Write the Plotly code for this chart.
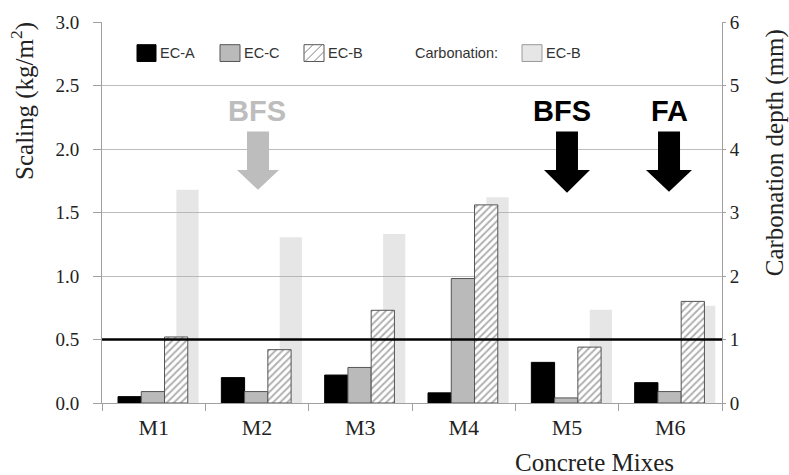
import plotly.graph_objects as go

# Concrete mixes and measured values
mixes = ["M1", "M2", "M3", "M4", "M5", "M6"]
scaling_ec_a = [0.05, 0.20, 0.22, 0.08, 0.32, 0.16]   # kg/m2
scaling_ec_c = [0.09, 0.09, 0.28, 0.98, 0.04, 0.09]   # kg/m2
scaling_ec_b = [0.52, 0.42, 0.73, 1.56, 0.44, 0.80]   # kg/m2
carbonation_ec_b = [3.36, 2.61, 2.66, 3.24, 1.47, 1.53]  # mm
scaling_limit = 0.5

# Plot-area geometry in pixels
W, H = 789, 475
L, R, T, B = 102, 722, 17, 403
PW, PH = R - L, B - T


def px(x):
    return (x - L) / PW


def py(y):
    return (B - y) / PH


SERIF = "Liberation Serif, Times New Roman, serif"
SANS = "Liberation Sans, Arial, sans-serif"
GRID = "#bdbdbd"
AXIS = "#a0a0a0"

fig = go.Figure()

# Carbonation depth bars (right axis), drawn behind the scaling bars;
# translucent so the gridlines stay visible through them
fig.add_trace(go.Bar(
    x=mixes, y=carbonation_ec_b, name="Carbonation EC-B",
    yaxis="y", width=0.215, offset=0.22,
    marker=dict(color="rgba(172,172,172,0.3)", line=dict(width=0)),
    showlegend=False,
))

# Scaling bars (left axis)
bar_w = 0.225
fig.add_trace(go.Bar(
    x=mixes, y=scaling_ec_a, name="EC-A", yaxis="y2",
    width=bar_w, offset=-0.345,
    marker=dict(color="#000000", line=dict(color="#000000", width=1)),
    showlegend=False,
))
fig.add_trace(go.Bar(
    x=mixes, y=scaling_ec_c, name="EC-C", yaxis="y2",
    width=bar_w, offset=-0.12,
    marker=dict(color="#bababa", line=dict(color="#555555", width=1)),
    showlegend=False,
))
fig.add_trace(go.Bar(
    x=mixes, y=scaling_ec_b, name="EC-B", yaxis="y2",
    width=bar_w, offset=0.105,
    marker=dict(color="white", line=dict(color="#555555", width=1),
                pattern=dict(shape="/", fgcolor="#5f5f5f", bgcolor="white",
                             size=5, solidity=0.38)),
    showlegend=False,
))

shapes = []
annotations = []

# Scaling limit line
shapes.append(dict(type="line", xref="paper", yref="y2", x0=0, x1=1,
                   y0=scaling_limit, y1=scaling_limit,
                   line=dict(color="#000000", width=2.5), layer="above"))


# Block arrows marking the supplementary materials
def arrow(cx, top, neck, tip, shaft_w, head_w, color):
    pts = [
        (cx - shaft_w / 2, top), (cx + shaft_w / 2, top),
        (cx + shaft_w / 2, neck), (cx + head_w / 2, neck),
        (cx, tip), (cx - head_w / 2, neck), (cx - shaft_w / 2, neck),
    ]
    path = "M " + " L ".join(f"{px(x):.4f},{py(y):.4f}" for x, y in pts) + " Z"
    return dict(type="path", xref="paper", yref="paper", path=path,
                fillcolor=color, line=dict(width=0), layer="above")


shapes.append(arrow(258, 128, 167, 187, 22, 42, "#bdbdbd"))
shapes.append(arrow(567, 128, 167, 190, 22, 46, "#000000"))
shapes.append(arrow(669, 128, 167, 189, 22, 46, "#000000"))

for text, cx, color in [("BFS", 257, "#bdbdbd"), ("BFS", 562, "#000000"), ("FA", 669, "#000000")]:
    annotations.append(dict(text=f"<b>{text}</b>", x=px(cx), y=py(107),
                            xref="paper", yref="paper", showarrow=False,
                            xanchor="center", yanchor="middle",
                            font=dict(family=SANS, size=29, color=color)))

# Legend boxes
def box(x0, x1, fill, edge):
    return dict(type="rect", xref="paper", yref="paper",
                x0=px(x0), x1=px(x1), y0=py(57), y1=py(40),
                fillcolor=fill, line=dict(color=edge, width=1), layer="above")


shapes.append(box(137, 156, "#000000", "#000000"))
shapes.append(box(220, 240, "#bababa", "#555555"))
shapes.append(box(304, 324, "white", "#555555"))
shapes.append(box(522, 542, "#e6e6e6", "#9a9a9a"))

# diagonal hatch inside the EC-B legend box
hx0, hx1, hy0, hy1 = 304, 324, 40, 57
for c in (hx0 + hy0 + 9, hx0 + hy0 + 18, hx0 + hy0 + 27):
    # line x + y = c clipped to the box
    xa = max(hx0, c - hy1)
    xb = min(hx1, c - hy0)
    if xb > xa:
        shapes.append(dict(type="line", xref="paper", yref="paper",
                           x0=px(xa), y0=py(c - xa), x1=px(xb), y1=py(c - xb),
                           line=dict(color="#808080", width=1), layer="above"))

for text, x in [("EC-A", 158), ("EC-C", 242), ("EC-B", 326), ("Carbonation:", 413), ("EC-B", 544)]:
    annotations.append(dict(text=text, x=px(x), y=py(48.5), xref="paper", yref="paper",
                            showarrow=False, xanchor="left", yanchor="middle",
                            font=dict(family=SANS, size=14.5, color="#333333")))

# Axis titles
annotations.append(dict(text="Scaling (kg/m<sup>2</sup>)", x=px(23), y=py(97),
                        xref="paper", yref="paper", showarrow=False, textangle=-90,
                        xanchor="center", yanchor="middle",
                        font=dict(family=SERIF, size=25, color="#222222")))
annotations.append(dict(text="Carbonation depth (mm)", x=px(775), y=py(150),
                        xref="paper", yref="paper", showarrow=False, textangle=-90,
                        xanchor="center", yanchor="middle",
                        font=dict(family=SERIF, size=25, color="#222222")))
annotations.append(dict(text="Concrete Mixes", x=px(594), y=py(463),
                        xref="paper", yref="paper", showarrow=False,
                        xanchor="center", yanchor="middle",
                        font=dict(family=SERIF, size=25, color="#222222")))

fig.update_layout(
    width=W, height=H,
    margin=dict(l=L, r=W - R, t=T, b=H - B, pad=0),
    paper_bgcolor="white", plot_bgcolor="white",
    barmode="overlay",
    showlegend=False,
    xaxis=dict(
        type="category", range=[-0.5, 5.5],
        tickson="boundaries", ticks="outside", ticklen=7, tickcolor=AXIS,
        showline=True, linecolor=AXIS, linewidth=1, showgrid=False,
        tickfont=dict(family=SERIF, size=22, color="#222222"),
        ticklabelstandoff=5,
    ),
    yaxis=dict(
        side="right", range=[0, 6], dtick=1, tickformat="d",
        showgrid=True, gridcolor=GRID, gridwidth=1, zeroline=False,
        showline=True, linecolor=AXIS, ticks="outside", ticklen=3, tickcolor=AXIS,
        tickfont=dict(family=SERIF, size=19, color="#222222"),
    ),
    yaxis2=dict(
        side="left", overlaying="y", anchor="x", range=[0, 3], dtick=0.5,
        tickformat=".1f", showgrid=False, zeroline=False,
        showline=True, linecolor=AXIS, ticks="outside", ticklen=8, tickcolor=AXIS,
        tickfont=dict(family=SERIF, size=19, color="#222222"),
        ticklabelstandoff=10,
    ),
    shapes=shapes,
    annotations=annotations,
)

fig.write_html("out.html")
